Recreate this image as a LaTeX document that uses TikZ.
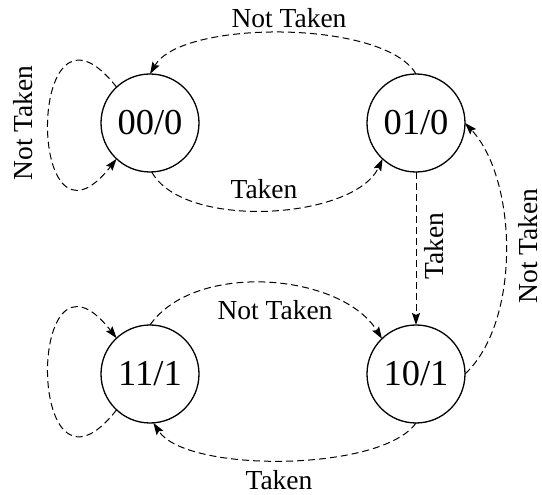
\documentclass[tikz,border=0pt]{standalone}
\usepackage{fontspec}
\setmainfont{Liberation Serif}
\usetikzlibrary{arrows.meta}
\begin{document}
\begin{tikzpicture}[x=1pt,y=1pt,
  state/.style={circle,draw,line width=1.3pt,minimum size=98pt,inner sep=0pt,outer sep=0pt,
    font=\fontsize{36.5}{40}\selectfont},
  trans/.style={dashed,dash pattern=on 7pt off 4pt,line width=1pt,
    -{Stealth[length=12pt,width=8pt,inset=2pt]}},
  lbl/.style={anchor=base,inner sep=0pt,text depth=0pt,font=\fontsize{27.5}{30}\selectfont},
  vlbl/.style={lbl,rotate=90}]
\useasboundingbox (0,0) rectangle (542,495);
\node[state] (s00) at (150,372) {00/0};
\node[state] (s01) at (416,372) {01/0};
\node[state] (s11) at (150,121) {11/1};
\node[state] (s10) at (416,121) {10/1};
% edges
\draw[trans] (s01.north) .. controls +(120:63) and +(60:63) .. (s00.north);
\draw[trans] (s00.-88) .. controls +(-61:67) and +(245:67) .. (s01.-133);
\draw[trans] (s01.south) -- (s10.north);
\draw[trans] (s10.east) .. controls +(43:77) and +(-47:77) .. (s01.east);
\draw[trans] (s11.north) .. controls +(55:78) and +(122:78) .. (s10.134);
\draw[trans] (s10.south) .. controls +(-125:60) and +(-57:60) .. (s11.-86);
\draw[trans] (s00.133) .. controls +(128:148) and +(232:148) .. (s00.227);
\draw[trans] (s11.227) .. controls +(232:148) and +(128:148) .. (s11.133);
% labels
\node[lbl] (l1) at (289,467) {Not Taken};
\node[lbl] (l2) at (264,296) {Taken};
\node[vlbl] (l3) at (443,249) {Taken};
\node[vlbl] (l4) at (537,249) {Not Taken};
\node[vlbl] (l5) at (33,372) {Not Taken};
\node[lbl] (l6) at (275,175) {Not Taken};
\node[lbl] (l7) at (279,5) {Taken};
\end{tikzpicture}
\end{document}
